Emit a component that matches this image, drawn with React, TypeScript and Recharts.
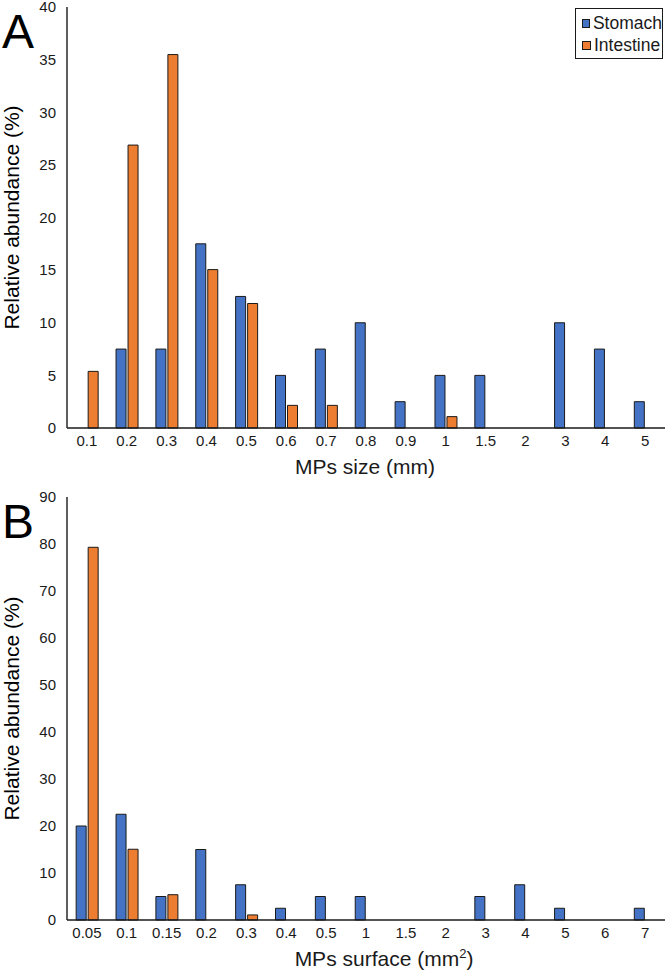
import { Bar, BarChart, Legend, XAxis, YAxis } from 'recharts';

// Two stacked panels (A: size, B: surface) of MPs relative abundance.

const SIZE_CATS = ['0.1', '0.2', '0.3', '0.4', '0.5', '0.6', '0.7', '0.8', '0.9', '1', '1.5', '2', '3', '4', '5'];
const SIZE_STOMACH = [0, 7.5, 7.5, 17.5, 12.5, 5, 7.5, 10, 2.5, 5, 5, 0, 10, 7.5, 2.5];
const SIZE_INTESTINE = [5.38, 26.88, 35.48, 15.05, 11.83, 2.15, 2.15, 0, 0, 1.08, 0, 0, 0, 0, 0];
const SIZE_TICKS = [0, 5, 10, 15, 20, 25, 30, 35, 40];

const SURF_CATS = ['0.05', '0.1', '0.15', '0.2', '0.3', '0.4', '0.5', '1', '1.5', '2', '3', '4', '5', '6', '7'];
const SURF_STOMACH = [20, 22.5, 5, 15, 7.5, 2.5, 5, 5, 0, 0, 5, 7.5, 2.5, 0, 2.5];
const SURF_INTESTINE = [79.3, 15.05, 5.38, 0, 1.08, 0, 0, 0, 0, 0, 0, 0, 0, 0, 0];
const SURF_TICKS = [0, 10, 20, 30, 40, 50, 60, 70, 80, 90];

const SERIES = [
  { key: 'stomach', name: 'Stomach', color: '#4472C4' },
  { key: 'intestine', name: 'Intestine', color: '#ED7D31' },
];

const INK = '#1a1a1a';
const FONT = '"Liberation Sans", Arial, Helvetica, sans-serif';

const W = 666;
const PLOT_LEFT = 67;

type Row = { cat: string; stomach: number; intestine: number };

const sizeData: Row[] = SIZE_CATS.map((cat, i) => ({ cat, stomach: SIZE_STOMACH[i], intestine: SIZE_INTESTINE[i] }));
const surfData: Row[] = SURF_CATS.map((cat, i) => ({ cat, stomach: SURF_STOMACH[i], intestine: SURF_INTESTINE[i] }));

// Excel style boxed legend, series in plotting order
function LegendBox() {
  return (
    <div
      style={{
        border: `1.5px solid ${INK}`,
        background: '#fff',
        boxSizing: 'border-box',
        height: 51,
        padding: '3px 0 0 6px',
        fontFamily: FONT,
        fontSize: 17.5,
        color: INK,
      }}
    >
      {SERIES.map((s) => (
        <div key={s.key} style={{ display: 'flex', alignItems: 'center', height: 22 }}>
          <span
            style={{
              width: 7,
              height: 7,
              background: s.color,
              border: `1px solid ${INK}`,
              marginRight: 3,
              display: 'inline-block',
            }}
          />
          {s.name}
        </div>
      ))}
    </div>
  );
}

type PanelProps = {
  data: Row[];
  ticks: number[];
  letter: string;
  xLabel: React.ReactNode;
  height: number;
  plotTop: number;
  plotBottom: number;
  labelDx: number;
  legend?: boolean;
};

function Panel({ data, ticks, letter, xLabel, height, plotTop, plotBottom, labelDx, legend }: PanelProps) {
  const cy = (plotTop + plotBottom) / 2;
  const cx = (PLOT_LEFT + W - 1) / 2 + labelDx;
  return (
    <BarChart
      width={W}
      height={height}
      data={data}
      margin={{ top: plotTop, right: 1, left: 0, bottom: 0 }}
      barCategoryGap="23%"
      barGap={2}
      style={{ overflow: 'visible' }}
    >
      <XAxis
        dataKey="cat"
        interval={0}
        height={height - plotBottom}
        tickLine={false}
        tickSize={0}
        tickMargin={7}
        axisLine={{ stroke: INK, strokeWidth: 1.4 }}
        tick={{ fontSize: 15, fill: INK, fontFamily: FONT }}
        label={() => (
          <text x={cx} y={plotBottom + 46} textAnchor="middle" fontSize={21} fill={INK} fontFamily={FONT}>
            {xLabel}
          </text>
        )}
      />
      <YAxis
        width={PLOT_LEFT}
        domain={[0, ticks[ticks.length - 1]]}
        ticks={ticks}
        interval={0}
        tickLine={false}
        tickSize={0}
        tickMargin={11}
        axisLine={{ stroke: INK, strokeWidth: 1.4 }}
        tick={{ fontSize: 15, fill: INK, fontFamily: FONT }}
        label={() => (
          <g fontFamily={FONT} fill="#000">
            <text x={2} y={plotTop + 41} fontSize={48}>
              {letter}
            </text>
            <text
              transform={`translate(11, ${cy}) rotate(-90)`}
              textAnchor="middle"
              dominantBaseline="central"
              fontSize={21}
            >
              Relative abundance (%)
            </text>
          </g>
        )}
      />
      {legend && (
        <Legend
          layout="horizontal"
          verticalAlign="middle"
          align="center"
          content={<LegendBox />}
          wrapperStyle={{ top: 8, left: 575, width: 88, height: 51 }}
        />
      )}
      {SERIES.map((s) => (
        <Bar
          key={s.key}
          dataKey={s.key}
          name={s.name}
          fill={s.color}
          stroke={INK}
          strokeWidth={1}
          isAnimationActive={false}
        />
      ))}
    </BarChart>
  );
}

export default function App() {
  return (
    <div style={{ position: 'absolute', left: 0, top: 0, width: W, height: 971, background: '#fff' }}>
      <div style={{ position: 'absolute', left: 0, top: 0 }}>
        <Panel
          data={sizeData}
          ticks={SIZE_TICKS}
          letter="A"
          xLabel="MPs size (mm)"
          height={480}
          plotTop={7}
          plotBottom={428}
          labelDx={-1}
          legend
        />
      </div>
      <div style={{ position: 'absolute', left: 0, top: 480 }}>
        <Panel
          data={surfData}
          ticks={SURF_TICKS}
          letter="B"
          xLabel={
            <>
              <tspan>MPs surface (mm</tspan>
              <tspan dy={-8} fontSize={13}>2</tspan>
              <tspan dy={8}>)</tspan>
            </>
          }
          height={491}
          plotTop={17}
          plotBottom={440}
          labelDx={18}
        />
      </div>
    </div>
  );
}
